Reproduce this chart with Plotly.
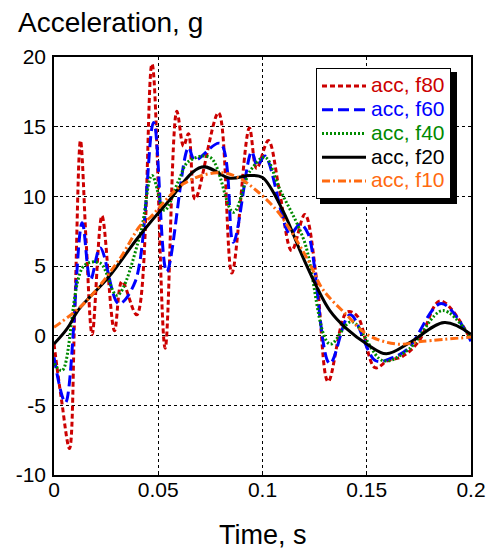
import plotly.graph_objects as go

# ---- data ----
t_f80 = [0, 0.0035, 0.0074, 0.0100, 0.0127, 0.0155, 0.0183, 0.0230, 0.0290, 0.0326, 0.0397,
         0.0470, 0.0533, 0.0589, 0.0621, 0.0645, 0.0677, 0.0789, 0.0853, 0.0937, 0.0972,
         0.1028, 0.1080, 0.1140, 0.1203, 0.1260, 0.1315, 0.1405, 0.1455, 0.1540, 0.1600,
         0.1670, 0.1750, 0.1852, 0.2000]
a_f80 = [-0.6, -4.5, -8.1, 2.0, 14.0, 6.5, 0.1, 8.6, 0.35, 3.9, 1.5,
         19.5, -0.9, 16.1, 13.6, 14.5, 9.8, 16.0, 4.5, 14.9, 12.0,
         14.0, 10.5, 6.1, 8.7, 4.0, -3.3, 1.7, 1.4, -2.3, -1.8,
         -1.5, -0.4, 2.5, -0.3]

t_f60 = [0, 0.0055, 0.0135, 0.0175, 0.0222, 0.0310, 0.0390, 0.0478, 0.0541, 0.0645,
         0.0675, 0.0797, 0.0860, 0.0948, 0.0975, 0.1012, 0.1132, 0.1180, 0.1219, 0.1323,
         0.1420, 0.1543, 0.1620, 0.1700, 0.1857, 0.2000]
a_f60 = [-1.55, -4.8, 8.1, 4.0, 6.3, 2.3, 3.9, 15.3, 4.6, 13.5,
         12.6, 13.8, 6.7, 13.2, 12.2, 12.9, 7.3, 8.0, 7.3, -2.0,
         1.5, -1.8, -1.6, -0.9, 2.3, -0.4]

t_f40 = [0, 0.0039, 0.0143, 0.0222, 0.0302, 0.0414, 0.0470, 0.0530, 0.0597, 0.0645,
         0.0749, 0.0860, 0.0940, 0.1012, 0.1080, 0.1200, 0.1323, 0.1427, 0.1578, 0.1700,
         0.1865, 0.2000]
a_f40 = [-2.0, -2.5, 5.0, 5.2, 2.9, 7.3, 11.5, 9.0, 11.1, 12.5,
         12.8, 8.85, 11.8, 12.8, 10.6, 6.8, -0.6, 1.0, -1.8, -1.0,
         1.8, -0.2]

t_f20 = [0, 0.0063, 0.0120, 0.0262, 0.0406, 0.0541, 0.0709, 0.0844, 0.0940, 0.1000,
         0.1100, 0.1180, 0.1260, 0.1323, 0.1403, 0.1500, 0.1594, 0.1706, 0.1873, 0.2000]
a_f20 = [-0.6, 0.5, 1.9, 4.2, 7.1, 9.5, 12.1, 11.3, 11.5, 11.35,
         8.9, 6.1, 3.5, 1.8, 0.5, -0.6, -1.3, -0.5, 0.95, 0.1]

t_f10 = [0, 0.0143, 0.0310, 0.0414, 0.0462, 0.0621, 0.0781, 0.0877, 0.0972, 0.1068,
         0.1124, 0.1219, 0.1290, 0.1403, 0.1500, 0.1642, 0.1770, 0.2000]
a_f10 = [0.6, 2.3, 5.4, 7.9, 8.5, 10.9, 11.7, 11.4, 10.4, 9.0,
         7.8, 5.4, 3.3, 1.5, 0.1, -0.6, -0.4, -0.1]

names = ["acc, f80", "acc, f60", "acc, f40", "acc, f20", "acc, f10"]
xtick_vals = [0, 0.05, 0.1, 0.15, 0.2]
xtick_text = ["0", "0.05", "0.1", "0.15", "0.2"]
ytick_vals = [-10, -5, 0, 5, 10, 15, 20]
ytick_text = ["-10", "-5", "0", "5", "10", "15", "20"]

# ---- styles ----
colors = ["#cc0000", "#0000ff", "#008a00", "#000000", "#ff6a10"]
dashes = ["5px,3px", "11px,5px", "2px,2px", "solid", "8px,3px,2px,3px"]
series = [(t_f80, a_f80), (t_f60, a_f60), (t_f40, a_f40), (t_f20, a_f20), (t_f10, a_f10)]

fig = go.Figure()
for (tt, aa), nm, c, d in zip(series, names, colors, dashes):
    fig.add_trace(go.Scatter(
        x=tt, y=aa, mode="lines",
        name=f'<span style="color:{c};font-size:21px">{nm}</span>',
        line=dict(color=c, width=3, dash=d, shape="spline", smoothing=1.0),
    ))

FONT = "Liberation Sans, Arial, sans-serif"
W, H = 489, 550
L, R, T, B = 54, 18, 57, 75
pw, ph = W - L - R, H - T - B

def px2x(px):
    return (px - L) / pw

def py2y(py):
    return (H - B - py) / ph

axis_common = dict(
    showgrid=True, gridcolor="black", gridwidth=1, griddash="dot",
    showline=True, linecolor="black", linewidth=1.5, mirror=True,
    ticks="inside", ticklen=4, tickcolor="black",
    zeroline=False, tickfont=dict(family=FONT, size=21, color="black"),
)

fig.update_layout(
    width=W, height=H,
    margin=dict(l=L, r=R, t=T, b=B, autoexpand=False),
    paper_bgcolor="white", plot_bgcolor="white",
    font=dict(family=FONT, color="black"),
    xaxis=dict(range=[0, 0.2], tickvals=xtick_vals, ticktext=xtick_text, ticklabelstandoff=-5,
               **axis_common),
    yaxis=dict(range=[-10, 20], tickvals=ytick_vals, ticktext=ytick_text, ticklabelstandoff=2,
               **axis_common),
    showlegend=True,
    legend=dict(
        x=px2x(316), y=py2y(68), xanchor="left", yanchor="top",
        bgcolor="white", bordercolor="black", borderwidth=1,
        font=dict(family=FONT, size=16), itemwidth=44, tracegroupgap=0,
    ),
    annotations=[
        dict(text="Acceleration, g", xref="paper", yref="paper",
             x=px2x(16), y=py2y(22), xanchor="left", yanchor="middle",
             showarrow=False, font=dict(family=FONT, size=28, color="black")),
        dict(text="Time, s", xref="paper", yref="paper",
             x=px2x(263), y=py2y(535), xanchor="center", yanchor="middle",
             showarrow=False, font=dict(family=FONT, size=27, color="black")),
    ],
    shapes=[
        dict(type="rect", xref="paper", yref="paper",
             x0=px2x(320), x1=px2x(457), y0=py2y(204), y1=py2y(72),
             fillcolor="black", line=dict(width=0), layer="above"),
    ],
)

fig.write_html("out.html", config={"displayModeBar": False},
               post_script="document.body.style.margin='0';document.body.style.overflow='hidden';")
